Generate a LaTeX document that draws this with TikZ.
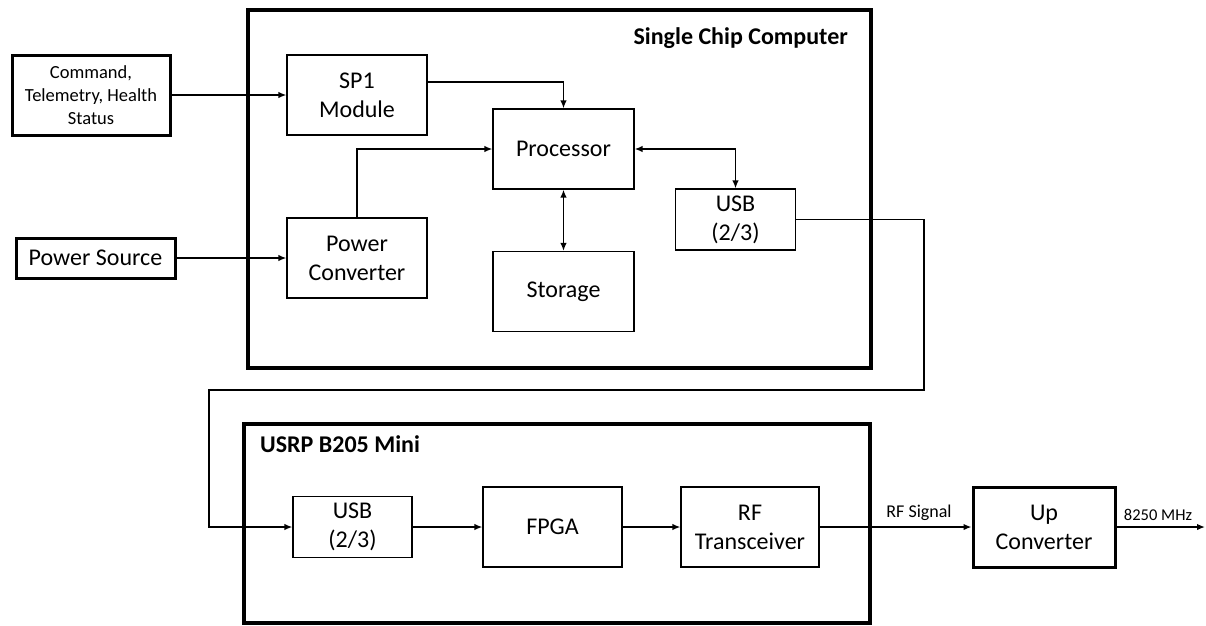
\documentclass[tikz,border=0pt]{standalone}
\usepackage{fontspec}
\setmainfont{Carlito}
\usetikzlibrary{arrows.meta,positioning}
\tikzset{
  blk/.style    = {draw=black, line width=1.2pt, align=center, inner sep=0pt,
                   font=\fontsize{24}{29}\selectfont,
                   minimum width=140pt, minimum height=80pt},
  usbblk/.style = {blk, minimum width=120pt, minimum height=61pt},
  outbox/.style = {blk, line width=3pt},
  unit/.style   = {draw=black, line width=4.5pt, inner sep=0pt},
  ttl/.style    = {font=\fontsize{24}{29}\selectfont\bfseries, inner sep=0pt},
  lab/.style    = {font=\fontsize{18}{22}\selectfont, inner sep=0pt},
  arr/.style    = {-{Latex[length=8pt,width=6.5pt]}, draw=black, line width=1.5pt},
  darr/.style   = {{Latex[length=8pt,width=6.5pt]}-{Latex[length=8pt,width=6.5pt]},
                   draw=black, line width=1.5pt},
}

\begin{document}
\begin{tikzpicture}[x=1pt, y=-1pt]
  \useasboundingbox (0,0) rectangle (1206,625);
  % frames
  \node[unit, minimum width=623pt, minimum height=358pt] (scc) at (559.5,189) {};
  \node[ttl, anchor=east] (sccTitle) at (848,38) {Single Chip Computer};
  \node[unit, minimum width=626pt, minimum height=199pt] (usrp) at (557,523.5) {};
  \node[ttl, anchor=west] (usrpTitle) at (260,444) {USRP B205 Mini};
  % outside inputs
  \node[outbox, minimum width=158pt, font=\fontsize{18.5}{23}\selectfont] (cmd) at (91,95)
       {Command,\\Telemetry, Health\\Status};
  \node[outbox, minimum width=159pt, minimum height=40pt] (psrc) at (95.5,258) {Power Source};
  % single chip computer
  \node[blk] (sp1) at (357,95) {SP1\\Module};
  \node[blk] (pconv) at (357,258) {Power\\Converter};
  \node[blk, minimum width=141pt] (proc) at (563.5,149) {Processor};
  \node[blk, minimum width=141pt] (stor) at (563.5,291.5) {Storage};
  \node[usbblk] (usbA) at (735.5,219.5) {USB\\(2/3)};
  % usrp
  \node[usbblk, minimum width=119pt] (usbB) at (352.5,527) {USB\\(2/3)};
  \node[blk, minimum width=139pt] (fpga) at (552.5,527) {FPGA};
  \node[blk, minimum width=138pt] (rf) at (750,527) {RF\\Transceiver};
  \node[outbox, minimum width=142pt] (upc) at (1044,527) {Up\\Converter};
  \node[lab] (rfsig) at (919,513) {RF Signal};
  \node[lab, font=\fontsize{16.5}{20}\selectfont] (freq) at (1158,515) {8250 MHz};
  \coordinate (c1) at (924,390);
  \coordinate (c2) at (209,390);
  \coordinate (out) at (1205,527);
  % connections
  \draw[arr] (cmd.east) -- (sp1.west);
  \draw[arr] (psrc.east) -- (pconv.west);
  \draw[arr] ([yshift=13pt]sp1.east) -| (proc.north);
  \draw[arr] (pconv.north) |- (proc.west);
  \draw[darr] (proc.east) -| (usbA.north);
  \draw[darr] (proc.south) -- (stor.north);
  \draw[arr] (usbA.east) -| (c1) -- (c2) |- (usbB.west);
  \draw[arr] (usbB.east) -- (fpga.west);
  \draw[arr] (fpga.east) -- (rf.west);
  \draw[arr] (rf.east) -- (upc.west);
  \draw[arr] (upc.east) -- (out);
\end{tikzpicture}
\end{document}
